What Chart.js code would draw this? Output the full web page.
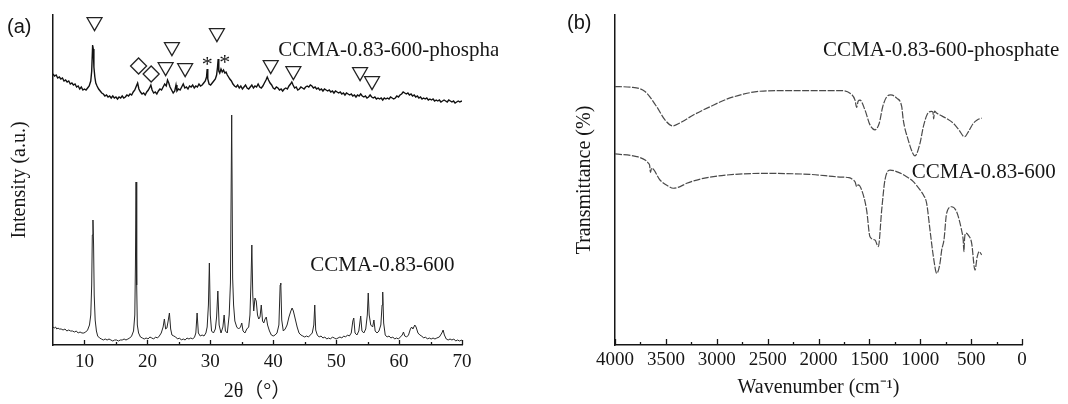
<!DOCTYPE html>
<html>
<head>
<meta charset="utf-8">
<script src="https://cdn.jsdelivr.net/npm/chart.js@4.4.0/dist/chart.umd.min.js"></script>
<style>
  html, body { margin: 0; padding: 0; background: #fff; }
  #wrap { position: relative; width: 1068px; height: 404px; overflow: hidden; background: #fff; }
  .panel { position: absolute; top: 0; height: 404px; }
  #pa { left: 0; width: 540px; }
  #pb { left: 540px; width: 528px; }
  .tag { position: absolute; font-family: "Liberation Sans", Arial, sans-serif; font-size: 20px; line-height: 20px; color: #161616; }
</style>
</head>
<body>
<div id="wrap">
  <div class="panel" id="pa"><canvas id="xrd" width="540" height="404"></canvas></div>
  <div class="panel" id="pb"><canvas id="ftir" width="528" height="404"></canvas></div>
  <div class="tag" style="left:7px;top:16px">(a)</div>
  <div class="tag" style="left:567px;top:12px">(b)</div>
</div>
<script>
// ---------- (a) XRD patterns ----------
const xrdTickValues = [10, 20, 30, 40, 50, 60, 70];
const xrdMinorTicks = [15, 25, 35, 45, 55, 65];

// CCMA-0.83-600 (as calcined)
const pristineAngle = [
  5.0, 5.2, 5.4, 5.6, 5.8, 6.0, 6.3, 6.6, 6.9, 7.2, 7.5, 7.8, 8.1, 8.4, 8.7, 9.0, 9.3, 9.6, 9.9, 10.2,
  10.5, 10.8, 11.0, 11.15, 11.25, 11.35, 11.45, 11.55, 11.7, 11.9, 12.1, 12.4, 12.7, 13.0, 13.3, 13.6, 13.9, 14.2, 14.5, 14.8,
  15.1, 15.4, 15.7, 16.0, 16.3, 16.6, 16.9, 17.2, 17.5, 17.8, 18.0, 18.1, 18.2, 18.3, 18.4, 18.6, 18.9, 19.2, 19.5, 19.8,
  20.1, 20.4, 20.7, 21.0, 21.3, 21.6, 21.9, 22.2, 22.5, 22.7, 22.9, 23.1, 23.3, 23.5, 23.7, 23.9, 24.2, 24.5, 24.8, 25.1,
  25.4, 25.7, 26.0, 26.3, 26.6, 26.9, 27.2, 27.5, 27.7, 27.9, 28.1, 28.4, 28.7, 29.0, 29.3, 29.5, 29.7, 29.85, 30.0, 30.2,
  30.5, 30.8, 31.0, 31.2, 31.4, 31.7, 32.0, 32.2, 32.4, 32.7, 33.0, 33.2, 33.4, 33.55, 33.7, 33.9, 34.2, 34.5, 34.8, 35.0,
  35.2, 35.5, 35.8, 36.1, 36.3, 36.45, 36.6, 36.75, 36.9, 37.1, 37.3, 37.5, 37.7, 37.9, 38.1, 38.3, 38.5, 38.7, 38.9, 39.1,
  39.4, 39.7, 40.0, 40.3, 40.6, 40.9, 41.1, 41.2, 41.35, 41.6, 41.9, 42.2, 42.5, 42.8, 43.0, 43.2, 43.5, 43.8, 44.1, 44.4,
  44.7, 45.0, 45.3, 45.6, 45.9, 46.2, 46.45, 46.6, 46.75, 47.0, 47.3, 47.6, 47.9, 48.2, 48.5, 48.8, 49.1, 49.4, 49.7, 50.0,
  50.3, 50.6, 50.9, 51.2, 51.5, 51.8, 52.1, 52.4, 52.65, 52.8, 53.0, 53.3, 53.6, 53.9, 54.1, 54.4, 54.7, 54.95, 55.1, 55.25,
  55.5, 55.8, 56.0, 56.2, 56.5, 56.8, 57.1, 57.3, 57.4, 57.55, 57.8, 58.1, 58.4, 58.7, 59.0, 59.3, 59.6, 59.9, 60.2, 60.5,
  60.7, 60.9, 61.2, 61.5, 61.8, 62.0, 62.2, 62.5, 62.7, 63.0, 63.3, 63.6, 63.9, 64.2, 64.5, 64.8, 65.1, 65.4, 65.7, 66.0,
  66.4, 66.8, 67.0, 67.2, 67.5, 67.8, 68.1, 68.4, 68.7, 69.0, 69.3, 69.6, 70.0
];
const pristineCounts = [
  18, 17, 18, 16, 17, 16, 16, 15, 16, 14, 15, 14, 14, 13, 14, 12, 13, 12, 12, 13,
  15, 20, 30, 60, 110, 125, 100, 50, 25, 14, 9, 7, 6, 5, 6, 5, 6, 5, 4, 5,
  5, 4, 5, 5, 6, 5, 6, 7, 9, 14, 30, 80, 163, 60, 20, 12, 8, 7, 6, 7,
  6, 8, 7, 6, 8, 7, 9, 12, 18, 26, 16, 17, 24, 32, 16, 10, 9, 8, 6, 7,
  5, 6, 5, 7, 6, 7, 6, 8, 12, 32, 12, 9, 10, 9, 12, 18, 40, 82, 30, 14,
  12, 16, 28, 54, 20, 12, 18, 30, 14, 12, 30, 62, 230, 67, 40, 24, 18, 16, 18, 22,
  14, 12, 16, 18, 30, 60, 100, 50, 34, 47, 44, 30, 26, 28, 40, 24, 22, 26, 28, 20,
  14, 10, 9, 10, 12, 20, 60, 62, 25, 14, 16, 20, 28, 34, 37, 34, 26, 18, 12, 10,
  9, 8, 9, 8, 10, 12, 20, 40, 15, 10, 8, 9, 7, 8, 6, 7, 6, 8, 7, 6,
  7, 8, 7, 9, 8, 10, 9, 12, 24, 27, 12, 10, 14, 29, 14, 12, 16, 30, 52, 30,
  20, 18, 25, 14, 12, 14, 20, 40, 53, 22, 10, 8, 9, 7, 8, 6, 7, 6, 8, 10,
  13, 9, 8, 10, 16, 18, 16, 20, 18, 12, 10, 9, 7, 8, 6, 7, 6, 7, 6, 7,
  8, 12, 15, 10, 6, 5, 6, 5, 6, 4, 5, 4, 5
];

// CCMA-0.83-600-phosphate
const phosphateAngle = [
  5.00, 5.25, 5.50, 5.75, 6.00, 6.25, 6.50, 6.75, 7.00, 7.25, 7.50, 7.75, 8.00, 8.25, 8.50, 8.75, 9.00, 9.25, 9.50, 9.75,
  10.00, 10.25, 10.50, 10.75, 11.00, 11.15, 11.30, 11.40, 11.50, 11.65, 11.80, 12.00, 12.25, 12.50, 12.75, 13.00, 13.25, 13.50, 13.75, 14.00,
  14.25, 14.50, 14.75, 15.00, 15.25, 15.50, 15.75, 16.00, 16.25, 16.50, 16.75, 17.00, 17.25, 17.50, 17.75, 18.00, 18.25, 18.45, 18.65, 18.90,
  19.15, 19.40, 19.65, 19.90, 20.15, 20.40, 20.55, 20.75, 21.00, 21.25, 21.50, 21.75, 22.00, 22.25, 22.50, 22.75, 23.00, 23.20, 23.40, 23.60,
  23.85, 24.10, 24.35, 24.55, 24.70, 24.95, 25.20, 25.45, 25.70, 25.95, 26.20, 26.45, 26.70, 26.95, 27.20, 27.45, 27.70, 27.95, 28.20, 28.45,
  28.70, 28.95, 29.20, 29.40, 29.50, 29.60, 29.80, 30.05, 30.30, 30.55, 30.80, 31.00, 31.15, 31.25, 31.35, 31.50, 31.70, 31.90, 32.10, 32.30,
  32.50, 32.70, 32.90, 33.10, 33.35, 33.60, 33.85, 34.10, 34.35, 34.60, 34.85, 35.10, 35.35, 35.60, 35.85, 36.10, 36.35, 36.60, 36.85, 37.10,
  37.35, 37.60, 37.85, 38.10, 38.35, 38.60, 38.85, 39.05, 39.25, 39.50, 39.75, 40.00, 40.25, 40.50, 40.75, 41.00, 41.25, 41.50, 41.75, 42.00,
  42.25, 42.50, 42.75, 42.95, 43.15, 43.40, 43.65, 43.90, 44.15, 44.40, 44.65, 44.90, 45.15, 45.40, 45.65, 45.90, 46.15, 46.40, 46.65, 46.90,
  47.15, 47.40, 47.65, 47.90, 48.15, 48.40, 48.65, 48.90, 49.15, 49.40, 49.65, 49.90, 50.15, 50.40, 50.65, 50.90, 51.15, 51.40, 51.65, 51.90,
  52.15, 52.40, 52.65, 52.90, 53.15, 53.40, 53.65, 53.90, 54.15, 54.40, 54.65, 54.90, 55.15, 55.40, 55.65, 55.90, 56.15, 56.40, 56.65, 56.90,
  57.15, 57.40, 57.65, 57.90, 58.15, 58.40, 58.65, 58.90, 59.15, 59.40, 59.65, 59.90, 60.15, 60.40, 60.65, 60.90, 61.15, 61.40, 61.65, 61.90,
  62.15, 62.40, 62.65, 62.90, 63.15, 63.40, 63.65, 63.90, 64.15, 64.40, 64.65, 64.90, 65.15, 65.40, 65.65, 65.90, 66.15, 66.40, 66.65, 66.90,
  67.15, 67.40, 67.65, 67.90, 68.15, 68.40, 68.65, 68.90, 69.15, 69.40, 69.65, 70.00
];
const phosphateCounts = [
  271, 269, 270, 267, 268, 266, 267, 264, 265, 263, 264, 261, 262, 260, 261, 258, 259, 256, 258, 255,
  256, 255, 257, 259, 264, 274, 300, 296, 278, 268, 262, 259, 256, 254, 252, 251, 249, 250, 248, 249,
  247, 249, 247, 248, 246, 248, 247, 249, 247, 248, 250, 249, 251, 250, 253, 255, 259, 262, 256, 253,
  251, 252, 250, 253, 255, 258, 260, 255, 252, 253, 251, 254, 256, 255, 258, 261, 259, 265, 262, 258,
  255, 252, 254, 260, 254, 256, 255, 258, 261, 257, 258, 256, 259, 258, 260, 257, 259, 258, 261, 259,
  260, 262, 264, 268, 276, 266, 261, 260, 262, 264, 266, 270, 278, 286, 274, 272, 276, 273, 275, 272,
  273, 270, 268, 266, 264, 261, 259, 258, 260, 257, 259, 256, 258, 260, 257, 256, 258, 260, 257, 259,
  258, 261, 258, 257, 259, 262, 265, 268, 265, 262, 260, 257, 256, 258, 257, 255, 256, 254, 256, 257,
  256, 259, 261, 263, 260, 257, 258, 255, 256, 258, 257, 256, 258, 259, 258, 260, 259, 257, 258, 256,
  257, 255, 256, 254, 256, 255, 254, 255, 253, 254, 252, 254, 253, 252, 253, 251, 252, 250, 252, 251,
  250, 251, 249, 250, 248, 250, 249, 251, 249, 248, 249, 247, 248, 250, 248, 247, 248, 246, 247, 246,
  247, 245, 247, 246, 247, 246, 248, 247, 246, 247, 249, 248, 250, 251, 253, 252, 251, 252, 250, 251,
  249, 250, 248, 249, 247, 248, 246, 247, 246, 247, 245, 246, 245, 246, 244, 245, 244, 245, 243, 244,
  245, 244, 243, 245, 244, 243, 244, 242, 243, 244, 243, 244
];

// Phase markers drawn above the phosphate pattern
const triangleAngle  = [11.6, 22.9, 23.9, 26.0, 31.05, 39.6, 43.2, 53.8, 55.7];
const triangleHeight = [323, 278, 298, 277, 312, 280, 274, 273, 264];
const diamondAngle   = [18.6, 20.6];
const diamondHeight  = [279, 271];
const asteriskAngle  = [29.5, 32.3];
const asteriskHeight = [284, 286];

// ---------- (b) FTIR spectra ----------
const ftirTickValues = [4000, 3500, 3000, 2500, 2000, 1500, 1000, 500, 0];
const ftirMinorTicks = [3750, 3250, 2750, 2250, 1750, 1250, 750, 250];

const phosphateWavenumber = [
  4000, 3840, 3705, 3590, 3509, 3433, 3361, 3230, 3066, 2902, 2739, 2575, 2248, 1789, 1690, 1641, 1625, 1610, 1592, 1543,
  1494, 1445, 1403, 1369, 1330, 1290, 1231, 1182, 1167, 1118, 1075, 1052, 1002, 970, 930, 890, 876, 868, 860, 840,
  806, 740, 675, 620, 565, 520, 478, 440, 396
];
const phosphateTransmittance = [
  78.3, 78.1, 76.8, 72.2, 68.2, 66.4, 67.3, 69.7, 72.2, 74.5, 76.0, 76.9, 77.1, 77.1, 76.3, 74.2, 72.0, 73.9, 74.2, 71.2,
  66.7, 65.2, 67.2, 72.2, 75.2, 75.8, 74.8, 72.2, 68.2, 62.1, 58.2, 57.3, 61.2, 66.1, 70.0, 70.8, 70.6, 68.5, 70.9, 70.3,
  69.7, 68.6, 67.2, 65.2, 63.1, 65.0, 67.2, 68.2, 68.8
];

const pristineWavenumber = [
  4000, 3787, 3700, 3672, 3660, 3652, 3640, 3558, 3480, 3427, 3360, 3295, 3132, 2902, 2575, 2084, 1789, 1700, 1658, 1640,
  1625, 1610, 1576, 1527, 1494, 1445, 1412, 1379, 1347, 1297, 1220, 1134, 1068, 1002, 970, 937, 904, 871, 838, 806,
  789, 767, 741, 692, 643, 594, 578, 571, 564, 551, 528, 495, 462, 440, 420, 397
];
const pristineTransmittance = [
  57.9, 57.1, 56.0, 55.1, 54.5, 52.3, 53.6, 50.0, 48.2, 47.5, 48.0, 49.0, 50.5, 51.5, 52.0, 51.7, 50.9, 50.7, 50.0, 49.4,
  48.0, 48.5, 47.0, 40.9, 32.8, 31.8, 29.8, 40.9, 50.0, 53.0, 52.4, 51.0, 49.5, 47.0, 45.5, 42.9, 34.8, 26.8, 21.7, 24.8,
  28.8, 31.8, 39.9, 41.9, 40.4, 34.8, 31.8, 28.3, 32.4, 33.9, 33.3, 30.9, 22.7, 26.8, 28.3, 27.3
];

// ---------- shared styling ----------
const SERIF = '"Liberation Serif", "Times New Roman", "Noto Sans CJK SC", serif';
const INK = '#161616';
const toXY = (xs, ys) => xs.map((v, i) => ({ x: v, y: ys[i] }));

// Inward tick marks along the bottom axis (major + minor)
const innerTicks = {
  id: 'innerTicks',
  afterDraw(chart, args, opts) {
    const { ctx, chartArea } = chart;
    const xs = chart.scales.x;
    const base = chartArea.bottom;
    ctx.save();
    ctx.strokeStyle = INK;
    ctx.lineWidth = 1.3;
    const mark = (v, len) => {
      const px = Math.round(xs.getPixelForValue(v)) + 0.5;
      ctx.beginPath();
      ctx.moveTo(px, base);
      ctx.lineTo(px, base - len);
      ctx.stroke();
    };
    opts.major.forEach(v => mark(v, opts.majorLen));
    opts.minor.forEach(v => mark(v, opts.minorLen));
    ctx.restore();
  }
};

// Series names and asterisk markers written at data coordinates
const seriesLabels = {
  id: 'seriesLabels',
  afterDatasetsDraw(chart, args, opts) {
    const { ctx } = chart;
    const xs = chart.scales.x, ys = chart.scales.y;
    ctx.save();
    if (opts.clipRight) {
      ctx.beginPath();
      ctx.rect(0, 0, opts.clipRight, chart.height);
      ctx.clip();
    }
    ctx.fillStyle = INK;
    ctx.font = opts.font;
    ctx.textAlign = 'left';
    ctx.textBaseline = 'middle';
    opts.items.forEach(it => ctx.fillText(it.text, xs.getPixelForValue(it.x), ys.getPixelForValue(it.y)));
    if (opts.stars) {
      ctx.font = opts.starFont;
      ctx.textAlign = 'center';
      ctx.textBaseline = 'alphabetic';
      const m = ctx.measureText('*');
      const dy = (m.actualBoundingBoxAscent - m.actualBoundingBoxDescent) / 2;
      opts.stars.x.forEach((a, i) => {
        ctx.fillText('*', xs.getPixelForValue(a), ys.getPixelForValue(opts.stars.y[i]) + dy);
      });
    }
    ctx.restore();
  }
};

const tickFont = { family: SERIF, size: 19 };
const titleFont = { family: SERIF, size: 20 };

function xAxis(ticksList, titleText, extra, tickPad, titlePad) {
  return Object.assign({
    type: 'linear',
    grid: { display: false, drawTicks: false },
    border: { display: true, color: INK, width: 1.5 },
    ticks: { font: tickFont, color: INK, padding: tickPad, maxRotation: 0, autoSkip: false, callback: v => String(v) },
    title: { display: true, text: titleText, color: INK, font: titleFont, padding: { top: 0, bottom: titlePad } },
    afterBuildTicks: s => { s.ticks = ticksList.map(v => ({ value: v })); },
    afterFit: s => { s.height = 59; }
  }, extra);
}

function yAxis(titleText, width, titlePad, max) {
  return {
    type: 'linear',
    min: 0,
    max: max,
    grid: { display: false, drawTicks: false },
    border: { display: true, color: INK, width: 1.5 },
    ticks: { display: false },
    title: { display: true, text: titleText, color: INK, font: titleFont, padding: { top: titlePad, bottom: 0 } },
    afterFit: s => { s.width = width; }
  };
}

const baseOptions = {
  responsive: false,
  animation: false,
  events: [],
  plugins: { legend: { display: false }, tooltip: { enabled: false } }
};

// ---------- panel (a) ----------
new Chart(document.getElementById('xrd'), {
  type: 'line',
  data: {
    datasets: [
      { data: toXY(pristineAngle, pristineCounts), borderColor: '#262626', borderWidth: 1, pointRadius: 0, tension: 0 },
      { data: toXY(phosphateAngle, phosphateCounts), borderColor: '#111', borderWidth: 1.4, pointRadius: 0, tension: 0 },
      { data: toXY(triangleAngle, triangleHeight), showLine: false, pointStyle: 'triangle', pointRotation: 180,
        pointRadius: 8.6, pointBorderWidth: 1.3, pointBorderColor: '#222', pointBackgroundColor: 'rgba(255,255,255,0)', clip: false },
      { data: toXY(diamondAngle, diamondHeight), showLine: false, pointStyle: 'rectRot',
        pointRadius: 8, pointBorderWidth: 1.3, pointBorderColor: '#222', pointBackgroundColor: 'rgba(255,255,255,0)', clip: false }
    ]
  },
  options: Object.assign({}, baseOptions, {
    layout: { padding: { left: 0, top: 15, right: 78, bottom: 0 } },
    scales: {
      x: xAxis(xrdTickValues, '2θ（°）', { min: 5, max: 70 }, 6, 0),
      y: yAxis('Intensity (a.u.)', 53, 8, 330)
    },
    plugins: Object.assign({}, baseOptions.plugins, {
      innerTicks: { major: xrdTickValues, minor: xrdMinorTicks, majorLen: 5, minorLen: 3 },
      seriesLabels: {
        clipRight: 498,
        font: '21px ' + SERIF,
        items: [
          { text: 'CCMA-0.83-600-phosphate', x: 40.8, y: 295 },
          { text: 'CCMA-0.83-600', x: 45.9, y: 80 }
        ],
        starFont: '22px ' + SERIF,
        stars: { x: asteriskAngle, y: asteriskHeight }
      }
    })
  }),
  plugins: [innerTicks, seriesLabels]
});

// ---------- panel (b) ----------
const ftirLine = { borderColor: '#4a4a4a', borderWidth: 1.2, borderDash: [7, 1.5], pointRadius: 0, cubicInterpolationMode: 'monotone' };
new Chart(document.getElementById('ftir'), {
  type: 'line',
  data: {
    datasets: [
      Object.assign({ data: toXY(phosphateWavenumber, phosphateTransmittance) }, ftirLine),
      Object.assign({ data: toXY(pristineWavenumber, pristineTransmittance) }, ftirLine)
    ]
  },
  options: Object.assign({}, baseOptions, {
    layout: { padding: { left: 0, top: 15, right: 46, bottom: 0 } },
    scales: {
      x: xAxis(ftirTickValues, 'Wavenumber (cm⁻¹)', { min: 0, max: 4000, reverse: true }, 4, 4),
      y: yAxis('Transmittance (%)', 75, 33, 100)
    },
    plugins: Object.assign({}, baseOptions.plugins, {
      innerTicks: { major: ftirTickValues, minor: ftirMinorTicks, majorLen: 6, minorLen: 3 },
      seriesLabels: {
        clipRight: 0,
        font: '21px ' + SERIF,
        items: [
          { text: 'CCMA-0.83-600-phosphate', x: 1956, y: 89.1 },
          { text: 'CCMA-0.83-600', x: 1084, y: 52.2 }
        ]
      }
    })
  }),
  plugins: [innerTicks, seriesLabels]
});
</script>
</body>
</html>
